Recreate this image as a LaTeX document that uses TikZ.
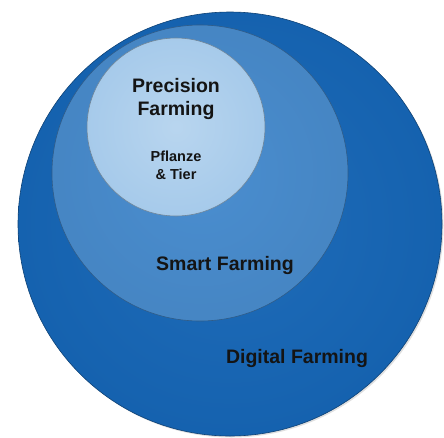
\documentclass[tikz,border=0pt]{standalone}
\usepackage{fontspec}
\setmainfont{Liberation Sans}
\usetikzlibrary{shadows}
\definecolor{digitalblue}{RGB}{22,102,182}
\definecolor{smartblue}{RGB}{74,142,208}
\definecolor{precisionblue}{RGB}{172,206,236}
\begin{document}
\begin{tikzpicture}[x=1pt,y=-1pt,thick,
    ring/.style={circle,draw=#1!65!black,line width=0.6pt,inner sep=0pt},
    big label/.style={font=\bfseries\fontsize{19.5}{22.6}\selectfont,align=center,text=black!92},
    small label/.style={font=\bfseries\fontsize{14.5}{18}\selectfont,align=center,text=black!92}]
    \useasboundingbox (0,0) rectangle (444,437);
    \fill[white] (0,0) rectangle (444,437);

    % nested circles
    \node[ring=digitalblue, minimum size=424pt, shading=radial, inner color=digitalblue!96!white, outer color=digitalblue!96!black,
          drop shadow={opacity=0.25,shadow xshift=1.5pt,shadow yshift=-1.5pt}] at (230,224) (digital) {};
    \node[ring=smartblue, minimum size=296pt, shading=radial, inner color=smartblue, outer color=smartblue!94!black] at (200,173) (smart) {};
    \node[ring=precisionblue, minimum size=178pt, shading=radial, inner color=precisionblue!85!white, outer color=precisionblue!94!smartblue] at (176,127) (precision) {};

    % labels
    \node[big label] at (176,99) (precisionlabel) {Precision\\Farming};
    \node[small label] at (176,165) (plantlabel) {Pflanze\\\& Tier};
    \node[big label] at (225,265) (smartlabel) {Smart Farming};
    \node[big label] at (297,358) (digitallabel) {Digital Farming};
\end{tikzpicture}
\end{document}
